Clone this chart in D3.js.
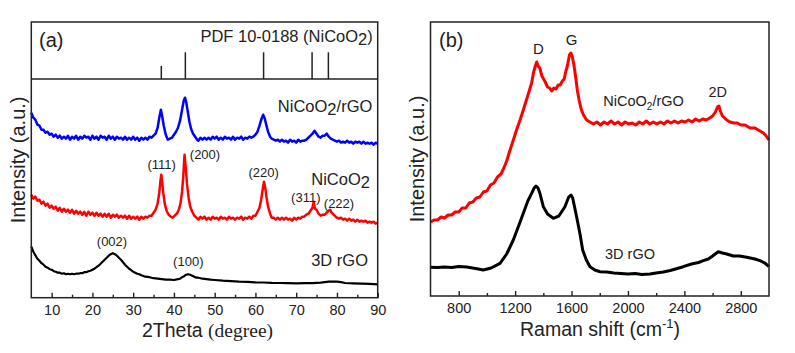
<!DOCTYPE html>
<html>
<head>
<meta charset="utf-8">
<script src="https://d3js.org/d3.v7.min.js"></script>
<style>
body { margin: 0; background: #fff; }
svg { display: block; font-family: "Liberation Sans", Arial, sans-serif; }
</style>
</head>
<body>
<svg id="drawing_region"></svg>
<script>
// ---- XRD (panel a): [2theta, intensity a.u.] ----
const xrdComposite = [
    [5,185],[5.5,180],[6,178],[6.5,173],[7,172],[7.5,168],[8,168],[8.5,165],[9,166],[9.5,163],[10,164],[10.5,161],
    [11,163],[11.5,160],[12,162],[12.5,159],[13,161],[13.5,159],[14,162],[14.5,158],[15,161],[15.5,159],[16,162],
    [16.5,158],[17,161],[17.5,159],[18,162],[18.5,160],[19,161],[19.5,158],[20,162],[20.5,159],[21,161],[21.5,158],
    [22,162],[22.5,160],[23,161],[23.5,158],[24,162],[24.5,159],[25,161],[25.5,158],[26,161],[26.5,159],[27,160],
    [27.5,158],[28,161],[28.5,158],[29,160],[29.5,158],[30,161],[30.5,158],[31,160],[31.5,157],[32,160],[32.5,158],
    [33,160],[33.5,158],[34,161],[34.5,160],[35,162],[35.5,164],[36,170],[36.4,180],[36.8,188],[37.1,182],[37.5,172],
    [38,163],[38.5,158],[39,159],[39.5,160],[40,163],[40.5,166],[41,170],[41.5,177],[42,188],[42.4,197],[42.7,200],
    [43,196],[43.4,186],[43.8,176],[44.2,169],[44.7,164],[45.2,161],[45.7,158],[46,157],[46.5,160],[47,158],[47.5,160],
    [48,158],[48.5,160],[49,158],[49.5,161],[50,159],[50.5,161],[51,158],[51.5,160],[52,158],[52.5,161],[53,159],
    [53.5,160],[54,158],[54.5,161],[55,158],[55.5,160],[56,159],[56.5,161],[57,158],[57.5,160],[58,159],[58.5,161],
    [59,160],[59.5,161],[60,163],[60.5,166],[61,172],[61.5,179],[61.9,183],[62.3,179],[62.7,172],[63.1,166],[63.6,161],
    [64,159],[64.5,158],[65,157],[65.5,158],[66,156],[66.5,158],[67,156],[67.5,157],[68,155],[68.5,158],[69,156],
    [69.5,157],[70,155],[70.5,158],[71,156],[71.5,157],[72,157],[72.5,158],[73,160],[73.5,162],[74,164],[74.5,167],
    [75,164],[75.5,161],[76,160],[76.5,162],[77,162],[77.5,164],[78,161],[78.5,159],[79,158],[79.5,157],[80,156],
    [80.5,157],[81,155],[81.5,156],[82,155],[82.5,157],[83,155],[83.5,156],[84,154],[84.5,156],[85,155],[85.5,156],
    [86,154],[86.5,156],[87,154],[87.5,155],[88,154],[88.5,155],[89,153],[89.5,155],[90,154]
];
const xrdNiCoO2 = [
    [5,103],[5.5,99],[6,101],[6.5,97],[7,98],[7.5,94],[8,96],[8.5,92],[9,94],[9.5,90],[10,92],[10.5,89],[11,91],
    [11.5,87],[12,90],[12.5,86],[13,89],[13.5,86],[14,88],[14.5,85],[15,88],[15.5,84],[16,87],[16.5,84],[17,86],
    [17.5,83],[18,86],[18.5,82],[19,86],[19.5,83],[20,85],[20.5,82],[21,85],[21.5,82],[22,84],[22.5,81],[23,84],
    [23.5,81],[24,84],[24.5,80],[25,83],[25.5,81],[26,83],[26.5,80],[27,82],[27.5,80],[28,82],[28.5,79],[29,82],
    [29.5,79],[30,81],[30.5,79],[31,81],[31.5,78],[32,81],[32.5,79],[33,81],[33.5,80],[34,82],[34.5,82],[35,85],
    [35.5,88],[36,94],[36.4,105],[36.7,117],[36.9,123],[37.1,116],[37.4,104],[37.8,93],[38.2,87],[38.7,83],[39.2,81],
    [39.7,80],[40.2,82],[40.7,84],[41.2,88],[41.6,94],[42,106],[42.3,122],[42.6,143],[42.9,130],[43.2,114],[43.6,100],
    [44,91],[44.5,86],[45,82],[45.5,80],[46,78],[46.5,81],[47,79],[47.5,81],[48,78],[48.5,80],[49,78],[49.5,81],
    [50,79],[50.5,80],[51,78],[51.5,81],[52,79],[52.5,80],[53,78],[53.5,81],[54,79],[54.5,80],[55,78],[55.5,80],
    [56,79],[56.5,81],[57,78],[57.5,80],[58,79],[58.5,81],[59,79],[59.5,82],[60,82],[60.5,86],[61,90],[61.4,98],
    [61.8,109],[62.1,116],[62.4,110],[62.7,101],[63.1,91],[63.6,84],[64,80],[64.5,80],[65,78],[65.5,80],[66,78],
    [66.5,80],[67,78],[67.5,80],[68,78],[68.5,79],[69,77],[69.5,80],[70,78],[70.5,80],[71,79],[71.5,81],[72,81],
    [72.5,83],[73,84],[73.5,87],[74,90],[74.3,96],[74.6,89],[75,88],[75.5,84],[76,82],[76.5,83],[77,83],[77.5,85],
    [78,87],[78.3,88],[78.7,85],[79.2,83],[79.7,81],[80,80],[80.5,79],[81,80],[81.5,78],[82,79],[82.5,77],[83,79],
    [83.5,77],[84,78],[84.5,76],[85,78],[85.5,76],[86,77],[86.5,76],[87,77],[87.5,75],[88,76],[88.5,75],[89,76],
    [89.5,74],[90,75]
];
const xrdRgo = [
    [5,51],[5.5,46],[6,42.5],[6.5,39],[7,37],[7.5,34.5],[8,33],[8.5,31],[9,30],[9.5,28.5],[10,28],[10.5,26.5],
    [11,26],[11.5,25],[12,25],[12.5,24],[13,24.5],[13.5,23.5],[14,24],[14.5,23.5],[15,24],[15.5,23.5],[16,24],
    [16.5,24],[17,24.5],[17.5,24.5],[18,25.5],[18.5,25.5],[19,26.5],[19.5,27],[20,28],[20.5,29],[21,30.5],[21.5,32],
    [22,34],[22.5,36],[23,38],[23.5,40],[24,42],[24.5,43.5],[25,44.5],[25.5,43.5],[26,42],[26.5,40],[27,38],
    [27.5,35.5],[28,33],[28.5,31],[29,29],[29.5,27.5],[30,26],[30.5,25],[31,24],[31.5,23.5],[32,22.5],[33,21],
    [34,20.5],[35,19.5],[36,19],[37,18.5],[38,18],[39,18],[40,17.7],[41,18.5],[41.5,19],[42,20.5],[42.5,21.5],
    [43,23],[43.5,23.5],[44,23],[44.5,22],[45,21],[45.5,20],[46,20],[46.5,19.5],[47,19],[48,18.5],[49,18],[50,17.7],
    [52,17],[54,16.5],[56,16],[58,15.8],[60,15.4],[62,15.2],[64,14.8],[66,14.7],[68,14.5],[70,14.4],[72,14.5],
    [74,14.6],[76,15],[77,15.5],[78,16],[79,16.2],[80,16],[81,15.5],[82,14.7],[84,14.3],[86,14],[88,13.8],[90,13.4]
];
// reference pattern PDF 10-0188
const pdfAngles = [36.9, 42.8, 62.0, 73.9, 77.9];
const pdfIntensity = [49, 100, 100, 100, 100];

// ---- Raman (panel b): [shift cm-1, intensity a.u.] ----
const ramanComposite = [
    [600,74],[625,76],[650,76],[675,79],[700,78],[725,81],[750,81],[775,84],[800,84],[825,88],[850,88],[875,93],
    [900,94],[925,98],[950,99],[975,104],[1000,105],[1025,111],[1050,113],[1075,119],[1100,122],[1120,128],[1140,135],
    [1164,146],[1185,155],[1210,166],[1235,176],[1258,186],[1280,196],[1300,205],[1317,213],[1330,223],[1343,230],
    [1353,234],[1363,230],[1375,228],[1390,220],[1410,215],[1430,209],[1445,208],[1459,205],[1475,208],[1490,207],
    [1505,211],[1520,211],[1535,215],[1548,217],[1560,225],[1572,231],[1585,241],[1596,243],[1606,239],[1618,230],
    [1630,218],[1642,205],[1655,195],[1670,186],[1685,181],[1707,176],[1730,174],[1755,172],[1780,174],[1805,171],
    [1830,174],[1855,172],[1880,175],[1905,172],[1930,174],[1955,171],[1980,174],[2005,172],[2030,173],[2055,171],
    [2080,174],[2105,172],[2130,175],[2155,172],[2180,174],[2205,172],[2230,174],[2255,172],[2280,175],[2305,173],
    [2330,175],[2355,173],[2380,175],[2405,174],[2430,176],[2455,174],[2480,177],[2505,175],[2530,177],[2555,176],
    [2580,178],[2600,180],[2620,184],[2635,189],[2645,190],[2655,185],[2670,180],[2700,176],[2723,174],[2750,173],
    [2775,173],[2800,171],[2830,171],[2865,168],[2900,168],[2936,165],[2960,163],[2980,160],[3000,156]
];
const ramanRgo = [
    [600,28.7],[650,28.5],[700,29],[750,28.5],[800,29.5],[857,29],[920,27.5],[974,26],[1030,28],[1093,32.7],
    [1140,42],[1187,56],[1230,72],[1258,82.7],[1290,95],[1317,102.7],[1335,108],[1348,110],[1362,108],[1375,103],
    [1400,89.3],[1430,82],[1471,77.7],[1510,80],[1553,89.3],[1580,99],[1596,101],[1608,98],[1620,90],[1636,79.3],
    [1660,62],[1679,46],[1705,36],[1731,29.3],[1765,26],[1802,24.3],[1850,24],[1900,23],[1950,22.5],[2000,22],
    [2050,22.5],[2100,21.5],[2156,22],[2200,23],[2250,24],[2300,25.5],[2350,27.5],[2392,29.3],[2450,32],[2500,33.5],
    [2534,35.3],[2570,37],[2600,40],[2640,44.3],[2670,43],[2700,42],[2747,40],[2790,40],[2842,38.7],[2900,37],
    [2936,35.3],[2970,33],[3000,29.3]
];

const xrdMajorTicks = [10, 20, 30, 40, 50, 60, 70, 80, 90];
const xrdMinorTicks = [15, 25, 35, 45, 55, 65, 75, 85];
const ramanMajorTicks = [800, 1200, 1600, 2000, 2400, 2800];
const ramanMinorTicks = [1000, 1400, 1800, 2200, 2600];

const svg = d3.select('#drawing_region')
    .attr('width', 795)
    .attr('height', 353);

class SpectrumPanel {

    constructor( config, series ) {
        this.config = config;
        this.series = series;
        this.init();
    }

    init() {
        let self = this;
        const c = self.config;

        self.chart = svg.append('g')
            .attr('transform', `translate(${c.left}, ${c.top})`);

        self.xscale = d3.scaleLinear()
            .domain( c.xDomain )
            .range( [0, c.width] );

        self.yscale = d3.scaleLinear()
            .domain( c.yDomain )
            .range( [c.height, 0] );
    }

    render() {
        let self = this;
        const c = self.config;

        const line = d3.line()
            .x( d => self.xscale( d[0] ) )
            .y( d => self.yscale( d[1] ) );

        self.chart.selectAll('path.trace')
            .data( self.series )
            .join('path')
            .attr('class', 'trace')
            .attr('d', s => line( s.values ))
            .attr('fill', 'none')
            .attr('stroke', s => s.color)
            .attr('stroke-width', s => s.width)
            .attr('stroke-linejoin', 'round');

        // major + minor ticks, pointing inward
        const major = d3.axisBottom( self.xscale )
            .tickValues( c.majorTicks )
            .tickFormat( d3.format('d') )
            .tickSizeInner( -5 )
            .tickSizeOuter( 0 )
            .tickPadding( c.tickPadding );
        const minor = d3.axisBottom( self.xscale )
            .tickValues( c.minorTicks )
            .tickSizeInner( -3 )
            .tickSizeOuter( 0 )
            .tickFormat( '' );

        [major, minor].forEach( ax => {
            const g = self.chart.append('g')
                .attr('transform', `translate(0, ${c.height})`)
                .call( ax );
            g.select('.domain').remove();
            g.selectAll('line').attr('stroke', '#222').attr('stroke-width', 1.4);
            g.selectAll('text')
                .attr('fill', '#222')
                .attr('font-family', '"Liberation Sans", Arial, sans-serif')
                .attr('font-size', '14.5px');
        });

        self.chart.append('rect')
            .attr('width', c.width)
            .attr('height', c.height)
            .attr('fill', 'none')
            .attr('stroke', '#222')
            .attr('stroke-width', 1.5);

        // y title
        self.chart.append('text')
            .attr('transform', `translate(${c.yTitleX}, ${c.height / 2}) rotate(-90)`)
            .attr('text-anchor', 'middle')
            .attr('font-size', '20px')
            .attr('fill', '#222')
            .text('Intensity (a.u.)');

        // text labels
        c.labels.forEach( lb => {
            const t = self.chart.append('text')
                .attr('x', lb.x)
                .attr('y', lb.y)
                .attr('text-anchor', lb.anchor || 'start')
                .attr('font-size', lb.size + 'px')
                .attr('fill', '#222');
            lb.parts.forEach( p => {
                const ts = t.append('tspan').text( p[0] );
                if (p[1]) ts.attr('dy', p[1]);
                if (p[2]) ts.attr('font-size', p[2] + 'px');
            });
        });
    }
}

// ---- panel (a) ----
const panelA = new SpectrumPanel({
    left: 31.3, top: 22, width: 346.4, height: 275.7,
    xDomain: [5, 90], yDomain: [0, 275.7],
    majorTicks: xrdMajorTicks, minorTicks: xrdMinorTicks, tickPadding: 7,
    yTitleX: -6,
    labels: [
        {x: 7.7, y: 25, size: 20, parts: [['(a)']]},
        {x: 341.5, y: 20, size: 16.5, anchor: 'end', parts: [['PDF 10-0188 (NiCoO'], ['2', 3], [')', -3]]},
        {x: 341, y: 89.7, size: 16.5, anchor: 'end', parts: [['NiCoO'], ['2', 3], ['/rGO', -3]]},
        {x: 338.7, y: 163, size: 16.5, anchor: 'end', parts: [['NiCoO'], ['2', 3]]},
        {x: 336.7, y: 243.5, size: 16.5, anchor: 'end', parts: [['3D rGO']]},
        {x: 130.4, y: 147, size: 13, anchor: 'middle', parts: [['(111)']]},
        {x: 173.7, y: 137, size: 13, anchor: 'middle', parts: [['(200)']]},
        {x: 232.4, y: 155.3, size: 13, anchor: 'middle', parts: [['(220)']]},
        {x: 274.5, y: 180.3, size: 13, anchor: 'middle', parts: [['(311)']]},
        {x: 307.7, y: 186, size: 13, anchor: 'middle', parts: [['(222)']]},
        {x: 80.7, y: 223.5, size: 13, anchor: 'middle', parts: [['(002)']]},
        {x: 157, y: 244.3, size: 13, anchor: 'middle', parts: [['(100)']]}
    ]
}, [
    {values: xrdRgo, color: '#000000', width: 2.2},
    {values: xrdNiCoO2, color: '#ff0000', width: 2.5},
    {values: xrdComposite, color: '#0000ff', width: 2.5}
]);
panelA.render();

// reference sticks in the top band
const pdfBase = 218.7;
const stickScale = d3.scaleLinear().domain([0, 100]).range([0, 26.7]);
panelA.chart.append('line')
    .attr('x1', 0).attr('x2', 346.4)
    .attr('y1', panelA.yscale(pdfBase)).attr('y2', panelA.yscale(pdfBase))
    .attr('stroke', '#222').attr('stroke-width', 1.5);
panelA.chart.selectAll('line.stick')
    .data( pdfAngles.map((a, i) => [a, pdfIntensity[i]]) )
    .join('line')
    .attr('class', 'stick')
    .attr('x1', d => panelA.xscale(d[0]))
    .attr('x2', d => panelA.xscale(d[0]))
    .attr('y1', panelA.yscale(pdfBase))
    .attr('y2', d => panelA.yscale(pdfBase) - stickScale(d[1]))
    .attr('stroke', '#222').attr('stroke-width', 1.5);

svg.append('text')
    .attr('x', 207.5).attr('y', 337)
    .attr('text-anchor', 'middle')
    .attr('font-size', '19.5px')
    .attr('fill', '#222')
    .call( t => {
        t.append('tspan').text('2Theta ');
        t.append('tspan').attr('font-family', '"Liberation Serif", "Times New Roman", serif').text('(degree)');
    });

// ---- panel (b) ----
const panelB = new SpectrumPanel({
    left: 430.5, top: 22, width: 338.5, height: 274,
    xDomain: [600, 3000], yDomain: [0, 274],
    majorTicks: ramanMajorTicks, minorTicks: ramanMinorTicks, tickPadding: 7,
    yTitleX: -7,
    labels: [
        {x: 8.5, y: 25, size: 20, parts: [['(b)']]},
        {x: 107.8, y: 31.5, size: 15, anchor: 'middle', parts: [['D']]},
        {x: 141.2, y: 22.5, size: 15, anchor: 'middle', parts: [['G']]},
        {x: 172.8, y: 84, size: 14.5, parts: [['NiCoO'], ['2', 4, 10], ['/rGO', -4]]},
        {x: 287.2, y: 74.7, size: 14.5, anchor: 'middle', parts: [['2D']]},
        {x: 174.5, y: 236.5, size: 14.5, parts: [['3D rGO']]}
    ]
}, [
    {values: ramanRgo, color: '#000000', width: 3},
    {values: ramanComposite, color: '#ff0000', width: 3}
]);
panelB.render();

svg.append('text')
    .attr('x', 600).attr('y', 336)
    .attr('text-anchor', 'middle')
    .attr('font-size', '19.5px')
    .attr('fill', '#222')
    .call( t => {
        t.append('tspan').text('Raman shift (cm');
        t.append('tspan').attr('dy', -8).attr('font-size', '13px').text('-1');
        t.append('tspan').attr('dy', 8).text(')');
    });
</script>
</body>
</html>
